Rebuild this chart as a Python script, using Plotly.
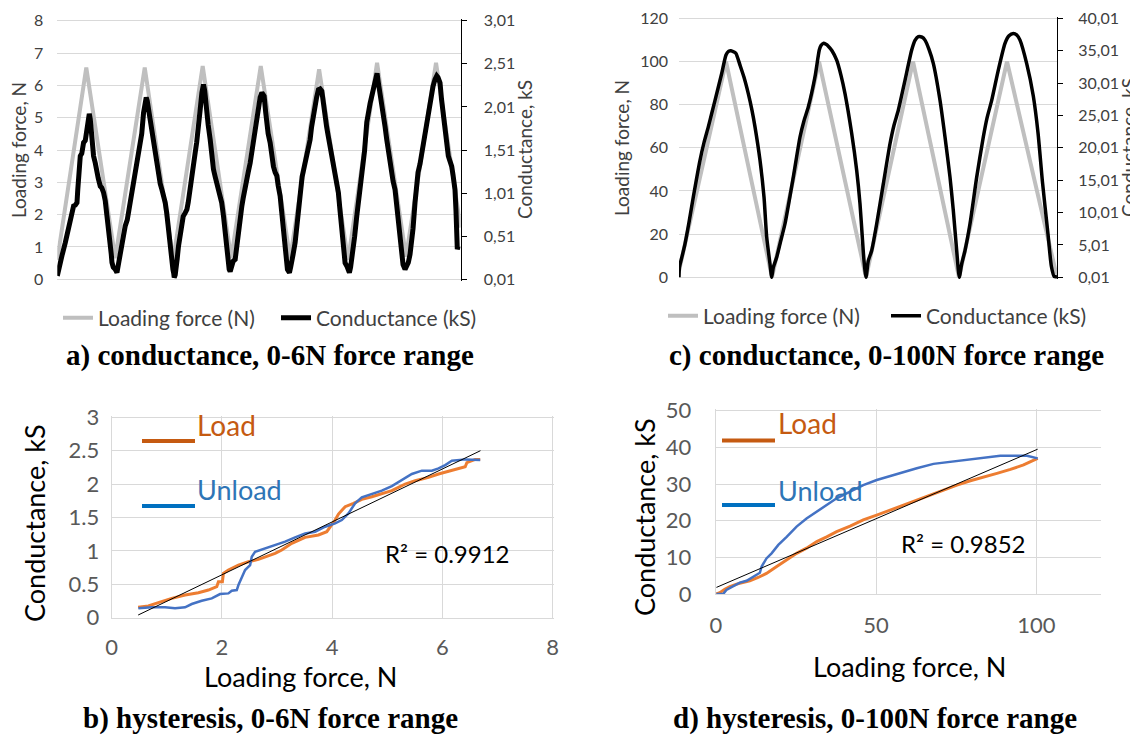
import plotly.graph_objects as go

W, H = 1138, 735
OFF = 8  # page body margin of the exported html

# ---------------- DATA ----------------
# (a) 0-6N: time (arbitrary units), loading force (N) vertices and conductance (kS)
time_a_force = [0, 29, 58, 87.5, 116, 145.5, 174, 203.6, 233, 262, 291, 320, 349, 379, 403.6]
force_a = [0.6, 6.55, 0.65, 6.55, 0.6, 6.6, 0.65, 6.6, 0.65, 6.5, 0.6, 6.7, 0.7, 6.7, 1.6]

time_a_cond = [0, 1.5, 3, 5, 8, 10, 13, 14.5, 16.3, 18, 19.7, 20.5, 21.3, 22, 23, 24.5, 26.3, 28, 29.7, 30.5,
               31.3, 32, 33, 34, 34.7, 35.5, 36.3, 38, 39.7, 41, 43, 44.5, 46.3, 48, 49.7, 51.5, 53, 54, 54.7, 56,
               58, 59, 59.7, 60.5, 61.3, 63, 64.7, 66, 68, 70, 71.5, 73, 74.5, 76.3, 78, 79.7, 81, 83, 84.5, 86.3,
               87.5, 89, 90, 91.3, 93, 94.7, 96, 97.5, 99.7, 101.5, 103, 104.7, 106, 108, 109.5, 111.3, 112, 113,
               114.5, 115.7, 116.5, 117, 118, 119, 120, 121.3, 123, 124.7, 126, 128, 129.7, 131, 133, 134.7, 136,
               138, 139.5, 141.3, 143, 144.7, 146.3, 147.5, 148.5, 149.7, 151, 153, 154.5, 156.3, 158, 159.7, 161,
               163, 164.5, 166.3, 168, 169.7, 171, 172, 173, 174.7, 176, 178, 179.5, 181.3, 183, 184.7, 186, 188,
               189.7, 191, 193, 194.5, 196.3, 198, 199.5, 201.3, 203, 204.7, 206, 207, 208.5, 209.7, 211, 213,
               214.5, 216.3, 218, 219.7, 221, 223, 224.5, 226.3, 227, 228, 229, 230.3, 231.5, 232.3, 233.5, 234.7,
               236, 238, 240, 241.5, 243, 245, 246.5, 248, 250, 251.5, 253, 254.5, 256.3, 258, 259.5, 261.3, 263,
               264.7, 266, 268, 269.5, 271, 273, 274.5, 276, 278, 279.5, 281.3, 283, 284.7, 285.5, 286.3, 288,
               289.7, 291, 292.3, 293.5, 294.7, 296, 297.5, 299.7, 301.5, 303, 304.7, 306, 307.5, 309.7, 311, 313,
               314.7, 316, 317.5, 319, 320, 321.3, 323, 324.7, 326, 328, 329.7, 331, 333, 334.5, 336, 338, 339.5,
               341.3, 343, 344.7, 346, 348, 349.5, 351.3, 353, 354.7, 356, 358, 359.7, 361, 363, 364.7, 366, 368,
               369.7, 371, 373, 374.7, 376, 378, 379.7, 381, 383, 384.5, 386.3, 388, 389.5, 391.3, 393, 394.7, 396,
               398, 399, 400.3, 401.3]
cond_a = [0.05, 0.15, 0.24, 0.3, 0.435, 0.55, 0.74, 0.78, 0.86, 0.87, 0.9, 1.05, 1.285, 1.35, 1.44, 1.47, 1.595, 1.62,
          1.75, 1.85, 1.9, 1.93, 1.865, 1.7, 1.595, 1.55, 1.44, 1.36, 1.21, 1.18, 1.09, 1.07, 1.015, 0.92, 0.745, 0.6,
          0.435, 0.3, 0.205, 0.15, 0.125, 0.1, 0.087, 0.14, 0.205, 0.33, 0.435, 0.5, 0.63, 0.7, 0.8, 0.9, 0.97, 1.09,
          1.2, 1.36, 1.45, 1.595, 1.7, 1.94, 2.05, 2.12, 2.08, 1.98, 1.85, 1.75, 1.6, 1.45, 1.285, 1.2, 1.12, 1.05,
          1.0, 0.9, 0.78, 0.59, 0.45, 0.28, 0.18, 0.125, 0.08, 0.03, 0.06, 0.125, 0.25, 0.395, 0.52, 0.67, 0.74,
          0.78, 0.82, 0.9, 1.1, 1.245, 1.35, 1.48, 1.6, 1.75, 1.98, 2.175, 2.27, 2.2, 2.05, 1.94, 1.8, 1.63, 1.45,
          1.285, 1.2, 1.13, 1.08, 1.015, 0.9, 0.745, 0.55, 0.32, 0.2, 0.125, 0.1, 0.205, 0.22, 0.24, 0.4, 0.59,
          0.75, 0.86, 0.95, 1.05, 1.13, 1.25, 1.36, 1.48, 1.63, 1.75, 1.85, 2.02, 2.12, 2.175, 2.16, 2.135, 1.95,
          1.79, 1.7, 1.595, 1.45, 1.32, 1.25, 1.21, 1.1, 0.975, 0.8, 0.59, 0.42, 0.28, 0.18, 0.125, 0.1, 0.087,
          0.15, 0.205, 0.3, 0.435, 0.7, 0.9, 1.09, 1.2, 1.28, 1.36, 1.45, 1.55, 1.63, 1.78, 1.94, 2.05, 2.12, 2.21,
          2.22, 2.195, 2.05, 1.9, 1.78, 1.68, 1.555, 1.45, 1.35, 1.245, 1.15, 1.015, 0.8, 0.59, 0.42, 0.28, 0.2,
          0.165, 0.12, 0.087, 0.15, 0.24, 0.35, 0.5, 0.745, 0.9, 1.02, 1.17, 1.3, 1.5, 1.83, 1.95, 2.05, 2.135,
          2.2, 2.3, 2.37, 2.4, 2.29, 2.18, 2.06, 1.95, 1.78, 1.63, 1.52, 1.36, 1.25, 1.15, 1.05, 0.88, 0.63, 0.45,
          0.28, 0.18, 0.125, 0.15, 0.205, 0.3, 0.435, 0.6, 0.9, 1.17, 1.25, 1.35, 1.48, 1.55, 1.68, 1.83, 1.92,
          2.05, 2.175, 2.25, 2.33, 2.37, 2.35, 2.29, 2.1, 1.9, 1.75, 1.6, 1.44, 1.38, 1.32, 1.22, 1.05, 0.8, 0.36,
          0.395]

# (c) 0-100N
time_c_force = [0, 47, 93, 140, 187, 234, 280, 328, 378]
force_c = [3, 100, 0, 100, 0, 100, 0, 100, 0]
time_c_cond = [0, 0.5, 3, 6, 10, 14.3, 21, 25, 29.3, 33, 36, 42.7, 47, 49.5, 52, 55, 57, 61, 65, 69.3, 73, 76, 81,
               85, 87.7, 91, 92.7, 94.3, 97.7, 101.5, 106, 114.3, 121, 125, 129.3, 136, 140.3, 142, 144.3, 147,
               149.3, 153, 157.7, 162, 166, 172.7, 177.7, 181, 183.3, 185, 187, 189.3, 192.7, 197.7, 204.3, 211,
               215, 219.3, 226, 232.7, 236, 239.3, 243, 246, 250, 254.3, 261, 266, 271, 274.3, 277.7, 280.3, 282.7,
               286, 291, 297.7, 304.3, 308, 312.7, 319.3, 326, 330, 334.3, 338, 341, 347.7, 354.3, 359, 363.5, 369,
               372.4, 375.3, 378]
cond_c = [0.01, 1.6, 3.2, 5.18, 8.5, 12.41, 18.08, 20.8, 23.24, 25.5, 27.34, 31.48, 34.34, 34.9, 35.01, 34.8, 34.58,
          32.78, 30.9, 28.38, 25.8, 23.24, 18.08, 12.41, 6.21, 2.08, 0.01, 1.54, 3.11, 5.5, 8.28, 15.48, 21.68, 24.2,
          26.31, 30.98, 35.11, 35.8, 36.14, 36.0, 35.71, 35.0, 33.54, 31.2, 28.38, 22.21, 16.51, 11.34, 6.21, 2.58,
          0.01, 2.58, 4.14, 8.28, 14.44, 20.64, 23.5, 25.81, 30.44, 35.11, 36.6, 37.18, 37.1, 36.64, 35.2, 33.04,
          27.34, 21.68, 15.48, 10.34, 4.14, 0.01, 2.08, 4.14, 8.28, 15.48, 21.68, 24.6, 27.34, 32.01, 36.14, 37.3,
          37.68, 37.4, 36.64, 33.01, 28.01, 22.34, 14.68, 6.68, 1.68, 0.11, 0.11]

# (b) hysteresis 0-6N
load_b_force = [0.48, 0.665, 0.847, 1.089, 1.331, 1.573, 1.754, 1.906, 1.936, 2.008, 2.027, 2.117, 2.299, 2.48, 2.662,
                2.843, 2.964, 3.085, 3.267, 3.509, 3.751, 3.902, 3.993, 4.053, 4.114, 4.235, 4.386, 4.537, 4.719,
                4.9, 5.082, 5.203, 5.324, 5.505, 5.747, 5.929, 6.171, 6.352, 6.413, 6.443, 6.594, 6.685]
load_b_cond = [0.155, 0.175, 0.225, 0.289, 0.339, 0.374, 0.414, 0.464, 0.539, 0.539, 0.664, 0.714, 0.788, 0.838,
               0.873, 0.923, 0.963, 1.013, 1.113, 1.203, 1.238, 1.287, 1.387, 1.462, 1.552, 1.662, 1.712, 1.771,
               1.811, 1.851, 1.901, 1.951, 2.001, 2.051, 2.101, 2.151, 2.201, 2.236, 2.26, 2.32, 2.37, 2.37]
unload_b_force = [0.484, 0.726, 0.968, 1.149, 1.331, 1.452, 1.633, 1.815, 1.966, 2.117, 2.178, 2.269, 2.299, 2.359,
                  2.42, 2.511, 2.541, 2.601, 2.783, 2.964, 3.146, 3.327, 3.509, 3.69, 3.872, 4.053, 4.174, 4.295,
                  4.416, 4.537, 4.719, 4.9, 5.082, 5.263, 5.445, 5.626, 5.808, 5.929, 6.05, 6.171, 6.413, 6.685]
unload_b_cond = [0.14, 0.155, 0.155, 0.14, 0.155, 0.205, 0.254, 0.289, 0.354, 0.364, 0.404, 0.414, 0.489, 0.614,
                 0.714, 0.788, 0.913, 0.988, 1.038, 1.088, 1.138, 1.203, 1.262, 1.287, 1.362, 1.412, 1.462, 1.562,
                 1.712, 1.801, 1.851, 1.901, 1.971, 2.061, 2.151, 2.201, 2.201, 2.236, 2.285, 2.35, 2.37, 2.36]
trend_b_force = [0.48, 6.69]
trend_b_cond = [0.04, 2.50]
r2_b = "R² = 0.9912"

# (d) hysteresis 0-100N
load_d_force = [0.2, 1.25, 2.8, 4.4, 6.5, 8.5, 10.6, 13.2, 15.8, 19.0, 22.1, 25.2, 28.3, 31.5, 34.6, 37.7, 41.9,
                46.0, 50.2, 54.4, 58.5, 62.7, 66.9, 71.0, 75.2, 79.4, 83.5, 87.7, 91.9, 96.0, 100.4]
load_d_cond = [0, 0.36, 1.27, 2.0, 2.7, 3.1, 3.6, 4.5, 5.6, 7.5, 9.3, 11.1, 12.5, 14.3, 15.6, 17.0, 18.5, 20.2,
               21.5, 22.9, 24.3, 25.6, 27.0, 28.4, 29.7, 30.9, 31.8, 32.9, 34.0, 35.2, 37.0]
unload_d_force = [0.2, 2.3, 3.3, 5.4, 7.5, 9.6, 11.7, 13.75, 14.3, 15.8, 17.4, 19.5, 22.1, 25.2, 28.3, 31.5, 34.6,
                  37.7, 41.9, 46.0, 50.2, 54.4, 58.5, 62.7, 67.9, 73.1, 78.3, 83.5, 88.75, 94.0, 97.1, 100.4]
unload_d_cond = [0.0, 0.0, 1.1, 2.0, 3.1, 3.6, 4.7, 5.8, 7.5, 9.7, 11.1, 13.4, 15.6, 18.4, 20.6, 22.5, 24.3, 26.1,
                 27.9, 29.7, 31.1, 32.2, 33.4, 34.3, 35.5, 36.1, 36.5, 37.3, 37.7, 37.7, 37.7, 37.0]
trend_d_force = [0.2, 100.4]
trend_d_cond = [1.8, 39.5]
r2_d = "R² = 0.9852"

right_a_vals = [0.01, 0.51, 1.01, 1.51, 2.01, 2.51, 3.01]
right_a_text = ["0,01", "0,51", "1,01", "1,51", "2,01", "2,51", "3,01"]
right_c_vals = [0.01, 5.01, 10.01, 15.01, 20.01, 25.01, 30.01, 35.01, 40.01]
right_c_text = ["0,01", "5,01", "10,01", "15,01", "20,01", "25,01", "30,01", "35,01", "40,01"]

titles = ["a) conductance, 0-6N force range", "c) conductance, 0-100N force range",
          "b) hysteresis, 0-6N force range", "d) hysteresis, 0-100N force range"]

# ---------------- STYLE ----------------
GRAY = "#BFBFBF"
GRID = "#D9D9D9"
ORANGE = "#ED7D31"
BLUE = "#4472C4"
TICKC = "#595959"
SANS = "Lato"


def px(x):
    return (x - OFF) / W


def py(y):
    return 1 - (y - OFF) / H


fig = go.Figure()

# (a)
fig.add_trace(go.Scatter(x=time_a_force, y=force_a, mode="lines", name="Loading force (N)",
                         line=dict(color=GRAY, width=4), xaxis="x", yaxis="y", legend="legend"))
fig.add_trace(go.Scatter(x=time_a_cond, y=cond_a, mode="lines", name="Conductance (kS)",
                         line=dict(color="black", width=5), xaxis="x", yaxis="y2", legend="legend"))
# (c)
fig.add_trace(go.Scatter(x=time_c_force, y=force_c, mode="lines", name="Loading force (N)",
                         line=dict(color=GRAY, width=4), xaxis="x2", yaxis="y3", legend="legend2"))
fig.add_trace(go.Scatter(x=time_c_cond, y=cond_c, mode="lines", name="Conductance (kS)",
                         line=dict(color="black", width=3.5, shape="spline", smoothing=0.6),
                         xaxis="x2", yaxis="y4", legend="legend2"))
# (b)
fig.add_trace(go.Scatter(x=load_b_force, y=load_b_cond, mode="lines", name="Load", showlegend=False,
                         line=dict(color=ORANGE, width=3), xaxis="x3", yaxis="y5"))
fig.add_trace(go.Scatter(x=unload_b_force, y=unload_b_cond, mode="lines", name="Unload", showlegend=False,
                         line=dict(color=BLUE, width=2.5), xaxis="x3", yaxis="y5"))
fig.add_trace(go.Scatter(x=trend_b_force, y=trend_b_cond, mode="lines", name="Linear", showlegend=False,
                         line=dict(color="black", width=1), xaxis="x3", yaxis="y5"))
# (d)
fig.add_trace(go.Scatter(x=load_d_force, y=load_d_cond, mode="lines", name="Load", showlegend=False,
                         line=dict(color=ORANGE, width=3), xaxis="x4", yaxis="y6"))
fig.add_trace(go.Scatter(x=unload_d_force, y=unload_d_cond, mode="lines", name="Unload", showlegend=False,
                         line=dict(color=BLUE, width=2.5), xaxis="x4", yaxis="y6"))
fig.add_trace(go.Scatter(x=trend_d_force, y=trend_d_cond, mode="lines", name="Linear", showlegend=False,
                         line=dict(color="black", width=1), xaxis="x4", yaxis="y6"))

tf_small = dict(family=SANS, size=16, color="#404040")
tf_big = dict(family=SANS, size=22, color=TICKC)
hidden_x = dict(showgrid=False, showticklabels=False, zeroline=False, showline=False, ticks="",
                automargin=False)
common = dict(automargin=False, zeroline=False, ticklabeloverflow="allow")

fig.update_layout(
    width=W, height=H, margin=dict(l=0, r=0, t=0, b=0, pad=0, autoexpand=False),
    paper_bgcolor="white", plot_bgcolor="white",
    font=dict(family=SANS),
    xaxis=dict(domain=[px(57.3), px(460.6)], range=[0, 403.6], anchor="y", **hidden_x),
    yaxis=dict(domain=[py(280.9), py(19.1)], range=[-0.05, 8.05], dtick=1, anchor="x",
               showgrid=True, gridcolor=GRID, gridwidth=1, showline=False,
               ticks="", tickfont=tf_small, ticklabelstandoff=13, **common),
    yaxis2=dict(overlaying="y", side="right", anchor="x", range=[-0.00875, 3.02875],
                tickvals=right_a_vals, ticktext=right_a_text, showgrid=False,
                showline=True, linecolor="black", linewidth=1, ticks="outside", ticklen=5,
                tickcolor="black", tickfont=tf_small, ticklabelstandoff=14, **common),
    xaxis2=dict(domain=[px(679), px(1057)], range=[0, 378], anchor="y3", **hidden_x),
    yaxis3=dict(domain=[py(279.03), py(16.57)], range=[-0.8, 120.8], dtick=20, anchor="x2",
                showgrid=True, gridcolor=GRID, gridwidth=1, showline=False,
                ticks="", tickfont=tf_small, ticklabelstandoff=10, **common),
    yaxis4=dict(overlaying="y3", side="right", anchor="x2", range=[0.01 - 0.8 / 3, 40.01 + 0.8 / 3],
                tickvals=right_c_vals, ticktext=right_c_text, showgrid=False,
                showline=True, linecolor="black", linewidth=1, ticks="outside", ticklen=5,
                tickcolor="black", tickfont=tf_small, ticklabelstandoff=12, **common),
    xaxis3=dict(domain=[px(111.7), px(554.35)], range=[0, 8.03], dtick=2, anchor="y5",
                showgrid=True, gridcolor=GRID, showline=True, linecolor=GRID,
                ticks="", tickfont=tf_big, ticklabelstandoff=10, **common),
    yaxis5=dict(domain=[py(617.7), py(415.63)], range=[0, 3.025], dtick=0.5, anchor="x3",
                showgrid=True, gridcolor=GRID, showline=True, linecolor=GRID,
                ticks="", tickfont=tf_big, ticklabelstandoff=7, **common),
    xaxis4=dict(domain=[px(715.8), px(1100.5)], range=[0, 120], tickvals=[0, 50, 100], anchor="y6",
                showgrid=True, gridcolor=GRID, showline=True, linecolor=GRID,
                ticks="", tickfont=tf_big, ticklabelstandoff=12, **common),
    yaxis6=dict(domain=[py(594), py(408.87)], range=[0, 50.5], dtick=10, anchor="x4",
                showgrid=True, gridcolor=GRID, showline=True, linecolor=GRID,
                ticks="", tickfont=tf_big, ticklabelstandoff=19, **common),
    legend=dict(orientation="h", x=px(58), xanchor="left", y=py(318), yanchor="middle",
                font=dict(family=SANS, size=21, color="#404040"), bgcolor="rgba(0,0,0,0)",
                itemwidth=30, tracegroupgap=0, entrywidth=173, entrywidthmode="pixels"),
    legend2=dict(orientation="h", x=px(663), xanchor="left", y=py(316), yanchor="middle",
                 font=dict(family=SANS, size=21, color="#404040"), bgcolor="rgba(0,0,0,0)",
                 itemwidth=30, tracegroupgap=0, entrywidth=178, entrywidthmode="pixels"),
)

ann = []


def text(x, y, s, size, color="black", family=SANS, angle=0, xanchor="center", bold=False):
    ann.append(dict(x=px(x), y=py(y), xref="paper", yref="paper", text=("<b>%s</b>" % s) if bold else s,
                    showarrow=False, xanchor=xanchor, yanchor="middle", textangle=angle,
                    font=dict(family=family, size=size, color=color)))


# axis titles (a) and (c)
text(19, 150, "Loading force, N", 19, "#404040", angle=-90)
text(525, 150, "Conductance, kS", 19, "#404040", angle=-90)
text(621, 148, "Loading force, N", 19, "#404040", angle=-90)
text(1128, 148, "Conductance, kS", 19, "#404040", angle=-90)
# axis titles (b) and (d)
text(34, 523, "Conductance, kS", 27, "black", angle=-90)
text(300, 676, "Loading force, N", 27, "black")
text(644, 517, "Conductance, kS", 27, "black", angle=-90)
text(909, 666, "Loading force, N", 27, "black")
# R² labels
text(383, 553, r2_b, 24, "black", xanchor="left")
text(899, 543, r2_d, 24, "black", xanchor="left")
# Load / Unload labels
text(195, 425, "Load", 28, "#C55A11", xanchor="left")
text(195, 489, "Unload", 27, "#2E75B6", xanchor="left")
text(776, 423, "Load", 28, "#C55A11", xanchor="left")
text(776, 490, "Unload", 27, "#2E75B6", xanchor="left")
# panel captions
text(270, 355, titles[0], 29, "black", family="Liberation Serif", bold=True)
text(886, 355, titles[1], 29, "black", family="Liberation Serif", bold=True)
text(270, 718, titles[2], 29, "black", family="Liberation Serif", bold=True)
text(875, 718, titles[3], 29, "black", family="Liberation Serif", bold=True)

shapes = []
for (x0, x1, y, c) in [(142, 195, 441, "#C55A11"), (142, 195, 506, "#0070C0"),
                       (722, 775, 440.5, "#C55A11"), (722, 775, 505, "#0070C0")]:
    shapes.append(dict(type="line", xref="paper", yref="paper", x0=px(x0), x1=px(x1), y0=py(y), y1=py(y),
                       line=dict(color=c, width=4)))

fig.update_layout(annotations=ann, shapes=shapes)
fig.write_html("out.html")
